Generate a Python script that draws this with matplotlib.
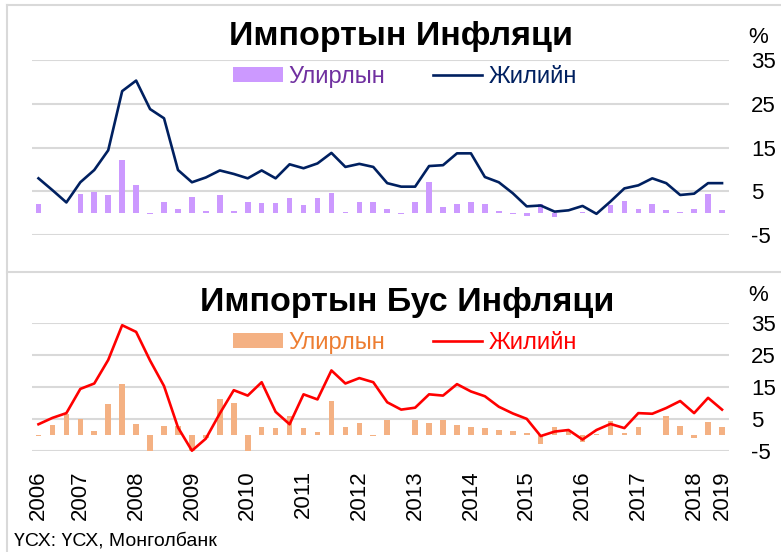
import matplotlib
matplotlib.use("Agg")
import matplotlib.pyplot as plt
from matplotlib.lines import Line2D

W_WIDTH = 781
W_HEIGHT = 552

plt.rcParams['font.family'] = ['Liberation Sans', 'DejaVu Sans']
plt.rcParams['axes.unicode_minus'] = False

# colour codes (Excel-ish)
IMP_BAR = '#CC99FF'
IMP_LINE = '#002060'
IMP_TEXT = '#7030A0'
NONIMP_BAR = '#F4B183'
NONIMP_LINE = '#FF0000'
NONIMP_TEXT = '#ED7D31'
GRID = '#D9D9D9'

# quarter index 0..49, year labels at these positions
year_pos = [0, 3, 7, 11, 15, 19, 23, 27, 31, 35, 39, 43, 47, 49]
year_labels = [str(y) for y in range(2006, 2020)]

# Импортын инфляци
imp_annual = [8.0, 5.3, 2.5, 7.1, 9.9, 14.4, 27.9, 30.3, 23.8, 21.7,
              9.9, 7.1, 8.2, 9.8, 9.0, 8.0, 9.8, 8.0, 11.2, 10.3,
              11.4, 13.8, 10.6, 11.3, 10.6, 6.9, 6.1, 6.1, 10.8, 11.0,
              13.7, 13.7, 8.3, 7.1, 4.6, 1.6, 1.8, 0.4, 0.7, 1.7,
              -0.1, 2.7, 5.7, 6.4, 8.0, 6.9, 4.2, 4.5, 6.9, 6.9]
imp_qtr = [2.2, 0.15, 0.15, 4.5, 4.9, 4.3, 12.1, 6.4, -0.2, 2.5,
           1.1, 3.7, 0.6, 4.1, 0.5, 2.7, 2.4, 2.4, 3.4, 1.8,
           3.4, 4.6, 0.4, 2.6, 2.7, 1.1, -0.15, 2.6, 7.2, 1.4,
           2.1, 2.6, 2.1, 0.5, -0.15, -0.5, 2.2, -0.8, 0.15, 0.4,
           0.0, 1.9, 2.9, 1.1, 2.1, 0.7, 0.4, 1.1, 4.5, 0.8]

# Импортын бус инфляци
nonimp_annual = [3.3, 5.3, 6.8, 14.4, 16.1, 23.5, 34.4, 32.3, 23.3, 15.3,
                 2.3, -5.0, -1.2, 6.7, 14.0, 12.3, 16.5, 7.2, 3.3, 12.7,
                 11.1, 20.2, 16.1, 17.8, 16.5, 10.2, 7.9, 8.5, 12.7, 12.3,
                 15.9, 13.6, 12.1, 8.8, 6.7, 5.0, -0.4, 1.0, 1.5, -1.5,
                 1.5, 3.4, 2.1, 6.8, 6.6, 8.4, 10.6, 6.8, 11.6, 7.9]
nonimp_qtr = [-0.4, 3.1, 6.4, 4.8, 1.2, 9.8, 15.8, 3.3, -6.0, 2.9,
              2.9, -5.5, -1.0, 11.1, 10.0, -6.0, 2.5, 2.0, 5.9, 2.1,
              0.9, 10.6, 2.3, 3.8, -0.3, 4.6, 0.0, 4.5, 3.6, 4.5,
              3.1, 2.4, 2.2, 1.4, 1.2, 0.7, -2.9, 2.3, 1.5, -2.2,
              0.2, 4.2, 0.6, 2.3, -0.1, 5.8, 2.8, -0.9, 4.1, 2.3]


def px_box(x0, y0, x1, y1):
    # pixel box (from top-left) -> figure fraction rect
    return [x0 / W_WIDTH, 1 - y1 / W_HEIGHT, (x1 - x0) / W_WIDTH, (y1 - y0) / W_HEIGHT]


def fy(y):
    return 1 - y / W_HEIGHT


def fx(x):
    return x / W_WIDTH


def draw_panel(ax, qtr, annual, bar_color, line_color, text_colors, legend_y):
    x = list(range(len(qtr)))
    bars = ax.bar(x, qtr, width=0.4, color=bar_color, label='Улирлын', zorder=2)
    line, = ax.plot(x, annual, color=line_color, linewidth=1.9, label='Жилийн', zorder=3, clip_on=False)
    ax.set_xlim(-0.5, len(qtr) - 0.5)
    ax.set_ylim(-5, 35)
    ax.set_yticks([-5, 5, 15, 25, 35])
    ax.grid(axis='y', color=GRID, linewidth=1.5, zorder=0)
    ax.set_axisbelow(True)
    for s in ax.spines.values():
        s.set_visible(False)
    ax.yaxis.tick_right()
    ax.tick_params(axis='y', length=0, pad=16, labelsize=16)
    ax.tick_params(axis='x', length=0)
    # bars first, then line (like the excel legend)
    ax.legend([bars, line], ['Улирлын', 'Жилийн'], loc='center',
              bbox_to_anchor=(fx(405), fy(legend_y)), bbox_transform=fig.transFigure,
              ncol=2, frameon=False, fontsize=17, handlelength=2.1, handleheight=0.6,
              handletextpad=0.25, columnspacing=2.0, labelcolor=text_colors)


fig = plt.figure(figsize=(W_WIDTH / 100, W_HEIGHT / 100), dpi=100)

ax1 = fig.add_axes(px_box(31.5, 60, 729, 235.3))
draw_panel(ax1, imp_qtr, imp_annual, IMP_BAR, IMP_LINE, [IMP_TEXT, IMP_LINE], 77)
ax1.set_xticks([])

ax2 = fig.add_axes(px_box(31.5, 323.3, 729, 450.7))
draw_panel(ax2, nonimp_qtr, nonimp_annual, NONIMP_BAR, NONIMP_LINE, [NONIMP_TEXT, NONIMP_LINE], 343)
ax2.set_xticks(year_pos)
ax2.set_xticklabels(year_labels, rotation=90, fontsize=16)
ax2.tick_params(axis='x', pad=14)

# titles
fig.text(fx(401), fy(45), 'Импортын Инфляци', ha='center', va='baseline',
         fontsize=24.5, fontweight='bold')
fig.text(fx(407), fy(311.5), 'Импортын Бус Инфляци', ha='center', va='baseline',
         fontsize=24.5, fontweight='bold')

fig.text(fx(748), fy(43), '%', ha='left', va='baseline', fontsize=16)
fig.text(fx(748), fy(301), '%', ha='left', va='baseline', fontsize=16)

fig.text(fx(14), fy(546), 'ҮСХ: ҮСХ, Монголбанк', ha='left', va='baseline', fontsize=14)

# chart area borders
for xs, ys in [([7, 781], [5, 5]), ([7, 7], [5, 552]), ([7, 781], [271.5, 271.5])]:
    fig.add_artist(Line2D([fx(v) for v in xs], [fy(v) for v in ys],
                          color=GRID, linewidth=1.5, transform=fig.transFigure))

fig.savefig('out.png', dpi=100)
